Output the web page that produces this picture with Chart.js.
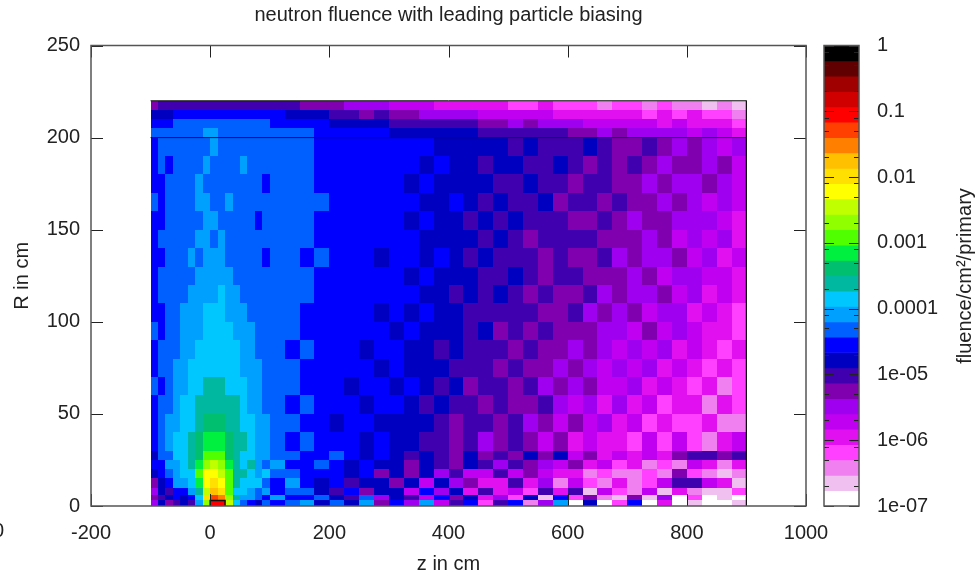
<!DOCTYPE html>
<html lang="en">
<head>
  <meta charset="UTF-8" />
  <title>neutron fluence with leading particle biasing</title>
  <style>
    body { margin: 0; background: #fff; overflow: hidden; }
    canvas { position: absolute; display: block; }
    #heat { left: 0; top: 0; }
    #bar { left: 800px; top: 0; }
  </style>
</head>
<body>
  <canvas id="heat" width="976" height="571"></canvas>
  <canvas id="bar" width="176" height="571"></canvas>

  <script src="https://cdn.jsdelivr.net/npm/chart.js"></script>
  <script>
    // bin edges in cm
    const zEdges = [-100, -87.5, -75, -62.5, -50, -37.5, -25, -12.5, 0, 12.5, 25, 37.5, 50, 62.5, 75, 87.5, 100,
      125, 150, 175, 200, 225, 250, 275, 300, 325, 350, 375, 400, 425, 450, 475, 500,
      525, 550, 575, 600, 625, 650, 675, 700, 725, 750, 775, 800, 825, 850, 875, 900];
    const rEdges = [220, 215, 210, 205, 200, 190, 180, 170, 160, 150, 140, 130, 120, 110, 100, 90, 80, 70, 60, 50, 40, 30, 25, 20, 15, 10, 6, 3, 0];

    // fluence, as -log10(fluence) * 10, rows from R=220 down to R=0
    const fluenceExp = [
      [52,50,50,50,50,50,50,50,50,50,50,50,50,50,50,50, 50,50,52,52,52,55,55,55, 57,57,57,60,60,60,60,60, 62,62,60,62,62,62,64,62, 62,64,62,64,64,66,64,66],
      [48,48,48,45,45,45,45,45,45,45,45,45,45,45,45,45, 45,48,48,48,50,50,52,50, 52,52,55,55,55,55,57,57, 57,57,57,60,60,60,60,60, 60,62,60,62,60,62,62,64],
      [45,45,45,43,43,43,43,43,43,43,43,43,43,43,43,43, 45,45,45,45,48,48,48,48, 50,50,50,50,50,50,52,52, 55,52,55,55,55,57,57,57, 57,57,60,57,60,60,60,62],
      [43,43,43,43,43,43,43,41,41,43,43,43,43,43,43,43, 43,43,43,45,45,45,45,45, 48,48,48,48,48,48,50,50, 50,50,50,50,52,52,55,52, 55,55,55,55,57,55,57,60],
      [45,43,43,43,43,43,43,43,41,43,43,43,43,43,43,43, 43,43,43,45,45,45,45,45, 45,45,45,48,48,48,48,48, 50,48,50,50,50,48,50,52, 52,50,52,55,52,55,57,55],
      [45,43,45,43,43,43,43,41,43,43,43,43,41,43,43,43, 43,43,43,45,45,45,45,45, 45,45,48,45,48,48,50,48, 48,50,50,48,50,52,50,52, 50,52,55,52,52,55,52,57],
      [45,45,43,43,43,43,41,43,43,43,43,43,43,43,43,45, 43,43,43,45,45,45,45,45, 45,48,45,48,48,48,48,50, 50,48,50,50,52,50,50,52, 52,55,52,55,55,52,55,57],
      [43,45,43,43,43,43,41,41,43,43,41,43,43,43,43,43, 43,43,43,43,45,45,45,45, 45,45,48,48,45,48,50,48, 50,50,48,52,50,50,52,50, 52,52,55,52,55,57,55,57],
      [45,45,43,43,43,43,43,41,41,43,43,43,43,43,45,43, 43,43,43,45,45,45,45,45, 45,48,45,48,48,50,48,50, 48,50,50,50,52,52,50,52, 55,52,52,55,55,55,57,60],
      [45,43,43,43,43,43,41,41,43,41,43,43,43,43,43,43, 43,43,43,45,45,45,45,45, 45,45,48,48,48,48,50,48, 50,52,50,50,50,50,52,52, 52,55,52,57,55,57,55,60],
      [45,45,43,43,43,41,43,41,41,41,43,43,43,43,43,45, 43,43,45,43,45,45,45,48, 45,45,48,45,48,50,48,50, 50,50,52,50,52,52,50,55, 52,55,55,52,57,55,60,57],
      [45,43,43,43,43,43,41,41,41,41,41,43,43,43,43,43, 43,43,43,45,45,45,45,45, 45,48,45,48,48,48,50,50, 48,50,52,50,50,52,52,52, 55,52,57,55,55,57,57,60],
      [45,43,43,43,43,41,41,41,41,38,41,41,43,43,43,43, 43,43,43,45,45,45,45,45, 45,45,48,48,50,48,50,48, 50,52,50,52,52,50,55,52, 55,55,52,57,55,60,57,60],
      [45,45,43,43,41,41,41,38,38,38,41,41,41,43,43,43, 43,43,45,45,45,45,45,48, 45,48,45,48,48,50,50,50, 50,50,52,52,50,55,52,55, 52,57,55,55,60,57,60,62],
      [43,45,43,43,41,41,41,38,38,38,38,41,41,41,43,43, 43,43,45,45,45,45,45,45, 48,45,48,48,48,50,48,52, 50,52,50,52,52,52,55,55, 57,52,57,55,57,60,60,62],
      [45,43,43,43,41,41,38,38,38,38,38,38,41,41,43,43, 43,45,43,45,45,45,48,45, 45,48,48,50,48,50,50,50, 52,50,52,52,55,52,55,57, 55,57,55,60,57,60,62,60],
      [45,43,43,41,41,38,38,38,38,38,38,38,41,41,41,43, 43,43,45,45,45,45,45,48, 45,48,48,48,50,50,50,52, 50,52,52,55,52,55,57,55, 57,55,60,57,60,62,60,62],
      [43,45,43,41,41,38,38,36,36,36,38,38,38,41,41,43, 43,43,45,45,45,48,45,45, 48,45,48,50,48,52,50,50, 52,50,55,52,55,52,57,57, 55,60,57,60,62,60,64,62],
      [45,43,43,41,38,38,36,36,36,36,36,36,38,41,41,43, 43,45,43,45,45,45,48,45, 45,48,50,48,50,50,52,50, 52,52,50,55,57,55,60,55, 60,57,62,60,60,64,60,62],
      [45,43,41,41,38,38,36,34,34,34,36,36,38,38,41,41, 43,43,45,45,48,45,45,48, 48,48,48,50,52,50,50,52, 50,55,52,57,52,57,55,60, 57,62,60,62,62,60,64,64],
      [45,43,41,38,38,36,34,31,31,31,34,36,36,38,41,41, 43,45,43,45,45,45,48,45, 48,48,50,50,52,50,55,52, 50,52,57,52,60,57,60,60, 62,57,62,57,62,64,60,57],
      [48,43,43,38,38,36,34,29,29,29,34,36,38,38,41,41, 43,43,45,45,43,45,48,45, 48,50,48,50,52,48,52,50, 52,48,52,48,57,52,60,57, 60,57,60,52,50,50,52,50],
      [45,45,41,41,38,36,31,27,24,27,31,36,38,36,41,43, 41,45,45,43,45,48,45,48, 48,52,48,50,52,48,50,55, 50,52,55,57,52,60,57,62, 60,64,62,64,57,60,64,60],
      [48,45,43,41,38,38,29,22,22,24,29,36,36,38,41,38, 43,43,45,45,45,48,45,52, 48,52,48,55,50,57,57,50, 57,52,57,60,60,64,62,64, 64,62,64,52,62,64,66,64],
      [52,48,45,41,41,38,31,22,20,22,29,36,38,38,38,43, 45,41,45,48,45,50,48,48, 52,48,57,48,55,52,60,60, 50,60,55,64,57,62,64,60, 64,62,57,50,50,57,60,66],
      [55,48,50,45,45,41,36,24,17,20,29,38,38,41,43,41, 45,43,43,48,50,45,52,48, 48,57,45,55,48,60,50,60, 57,62,50,60,50,66,57,62, 64,57,66,60,64,66,66,62],
      [52,50,48,45,48,45,38,20,13,15,27,36,41,41,43,45, 41,45,45,43,48,50,43,55, 48,50,57,45,52,48,60,55, 62,48,66,45,62,52,64,66, 52,66,55,69,62,69,66,69],
      [55,48,52,50,48,50,41,27,10,10,24,38,43,45,48,43, 45,43,41,48,43,48,41,52, 45,55,41,57,50,45,62,50, 45,64,55,41,69,48,69,62, 45,69,60,69,66,69,69,66]
    ];

    // palette from the colour box, top (1) to bottom (1e-7)
    const bandColors = ['#000000', '#600000', '#a00000', '#d00000', '#ff0000', '#ff4000', '#ff8000', '#ffc000', '#ffe000', '#ffff00',
      '#c0ff00', '#90ff00', '#50ff00', '#00f040', '#00c070', '#00b8a0', '#00c8ff', '#00a0ff', '#0060ff', '#0000ff',
      '#0000c0', '#4000b0', '#8000b0', '#a000f0', '#c000f0', '#e010f0', '#ff40ff', '#f080f0', '#f0c0f0', '#ffffff'];

    const outlineZ = [-100, 900, 900];
    const outlineR = [220, 220, 0];
    const shieldZ = [-100, 900];
    const shieldR = [200, 200];
    const targetZ = [0, 0, 25, 25];
    const targetR = [0, 3, 3, 0];

    const barDecades = [1, 0.1, 0.01, 0.001, 0.0001, 1e-5, 1e-6, 1e-7];
    const barLabels = ['1', '0.1', '0.01', '0.001', '0.0001', '1e-05', '1e-06', '1e-07'];
    const barMinorMant = [8, 5, 2];

    const FONT = '"Liberation Sans", Arial, sans-serif';
    const INK = '#222';
    const FRAME = '#555';

    function bandOf(exp) {
      return bandColors[Math.min(29, Math.floor(exp / (70 / 30)))];
    }

    function pairs(xs, ys) {
      return xs.map((x, i) => ({ x: x, y: ys[i] }));
    }

    const cells = [];
    fluenceExp.forEach((row, i) => {
      row.forEach((exp, j) => {
        cells.push({
          x: (zEdges[j] + zEdges[j + 1]) / 2, y: (rEdges[i] + rEdges[i + 1]) / 2,
          z0: zEdges[j], z1: zEdges[j + 1], r0: rEdges[i + 1], r1: rEdges[i], exp: exp
        });
      });
    });

    const heatCells = {
      id: 'heatCells',
      beforeDatasetsDraw(chart) {
        const { ctx, scales } = chart;
        ctx.save();
        chart.data.datasets[0].data.forEach(c => {
          const x0 = Math.round(scales.x.getPixelForValue(c.z0));
          const x1 = Math.round(scales.x.getPixelForValue(c.z1));
          const y0 = Math.round(scales.y.getPixelForValue(c.r1));
          const y1 = Math.round(scales.y.getPixelForValue(c.r0));
          ctx.fillStyle = bandOf(c.exp);
          ctx.fillRect(x0, y0, x1 - x0, y1 - y0);
        });
        ctx.restore();
      }
    };

    // gnuplot style frame with inward ticks on all four sides
    const frameTicks = {
      id: 'frameTicks',
      afterDatasetsDraw(chart) {
        const { ctx, chartArea: a, scales } = chart;
        ctx.save();
        ctx.strokeStyle = INK;
        ctx.lineWidth = 1;
        ctx.beginPath();
        scales.x.ticks.forEach(t => {
          const px = Math.round(scales.x.getPixelForValue(t.value)) + 0.5;
          ctx.moveTo(px, a.bottom); ctx.lineTo(px, a.bottom - 12);
          ctx.moveTo(px, a.top); ctx.lineTo(px, a.top + 12);
        });
        scales.y.ticks.forEach(t => {
          const py = Math.round(scales.y.getPixelForValue(t.value)) + 0.5;
          ctx.moveTo(a.left, py); ctx.lineTo(a.left + 12, py);
          ctx.moveTo(a.right, py); ctx.lineTo(a.right - 12, py);
        });
        ctx.stroke();
        ctx.strokeStyle = FRAME;
        ctx.lineWidth = 1.5;
        ctx.strokeRect(a.left, a.top, a.right - a.left, a.bottom - a.top);
        // label cut off by the left edge of the picture
        ctx.fillStyle = INK;
        ctx.font = '20px ' + FONT;
        ctx.textBaseline = 'middle';
        ctx.fillText('0', -7, 531);
        ctx.restore();
      }
    };

    new Chart(document.getElementById('heat'), {
      type: 'scatter',
      data: {
        datasets: [
          { data: cells, pointRadius: 0, showLine: false },
          { data: pairs(outlineZ, outlineR), showLine: true, pointRadius: 0, borderColor: '#111', borderWidth: 1 },
          { data: pairs(shieldZ, shieldR), showLine: true, pointRadius: 0, borderColor: '#111', borderWidth: 1 },
          { data: pairs(targetZ, targetR), showLine: true, pointRadius: 0, borderColor: '#111', borderWidth: 1.5 }
        ]
      },
      plugins: [heatCells, frameTicks],
      options: {
        responsive: false,
        animation: false,
        layout: { padding: { right: 170 } },
        plugins: {
          legend: { display: false },
          tooltip: { enabled: false },
          title: {
            display: true,
            fullSize: false,
            text: 'neutron fluence with leading particle biasing',
            color: INK,
            font: { family: FONT, size: 20, weight: 'normal' },
            padding: { top: 3, bottom: 18.5 }
          }
        },
        scales: {
          x: {
            type: 'linear', min: -200, max: 1000,
            ticks: { stepSize: 200, color: INK, font: { family: FONT, size: 20 }, padding: 7, maxRotation: 0, callback: v => String(v) },
            grid: { display: false }, border: { display: false },
            title: { display: true, text: 'z in cm', color: INK, font: { family: FONT, size: 20 }, padding: { top: 0, bottom: -5 } },
            afterFit(s) { s.height = 65; }
          },
          y: {
            type: 'linear', min: 0, max: 250,
            ticks: { stepSize: 50, color: INK, font: { family: FONT, size: 20 }, padding: 3 },
            grid: { display: false }, border: { display: false },
            title: { display: true, text: 'R in cm', color: INK, font: { family: FONT, size: 20 }, padding: { top: 10, bottom: 0 } },
            afterFit(s) { s.width = 91; }
          }
        }
      }
    });

    // colour box
    const barSets = bandColors.map((col, i) => ({
      data: [[Math.pow(10, -7 * (i + 1) / 30), Math.pow(10, -7 * i / 30)]],
      backgroundColor: col,
      borderWidth: 0,
      barPercentage: 1,
      categoryPercentage: 1,
      grouped: false
    }));

    const barFrame = {
      id: 'barFrame',
      afterDatasetsDraw(chart) {
        const { ctx, chartArea: a, scales } = chart;
        ctx.save();
        ctx.strokeStyle = INK;
        ctx.lineWidth = 1;
        ctx.beginPath();
        barDecades.forEach(v => {
          const py = Math.round(scales.y.getPixelForValue(v)) + 0.5;
          ctx.moveTo(a.left, py); ctx.lineTo(a.left + 10, py);
          ctx.moveTo(a.right, py); ctx.lineTo(a.right - 10, py);
        });
        barDecades.slice(0, -1).forEach(v => {
          barMinorMant.forEach(m => {
            const py = Math.round(scales.y.getPixelForValue(v * m / 10)) + 0.5;
            ctx.moveTo(a.left, py); ctx.lineTo(a.left + 5, py);
            ctx.moveTo(a.right, py); ctx.lineTo(a.right - 5, py);
          });
        });
        ctx.stroke();
        ctx.strokeStyle = FRAME;
        ctx.lineWidth = 1.5;
        ctx.strokeRect(a.left, a.top, a.right - a.left, a.bottom - a.top);
        // axis title reads upward here, chart.js would turn it the other way
        ctx.translate(165, 276);
        ctx.rotate(-Math.PI / 2);
        ctx.fillStyle = INK;
        ctx.font = '20px ' + FONT;
        ctx.textAlign = 'center';
        ctx.textBaseline = 'middle';
        ctx.fillText('fluence/cm²/primary', 0, 0);
        ctx.restore();
      }
    };

    new Chart(document.getElementById('bar'), {
      type: 'bar',
      data: { labels: [''], datasets: barSets },
      plugins: [barFrame],
      options: {
        responsive: false,
        animation: false,
        layout: { padding: { top: 45.5, bottom: 65, left: 24 } },
        plugins: { legend: { display: false }, tooltip: { enabled: false } },
        scales: {
          x: { display: false },
          y: {
            type: 'logarithmic', position: 'right', min: 1e-7, max: 1,
            afterBuildTicks(s) { s.ticks = barDecades.map(v => ({ value: v })); },
            ticks: {
              color: INK, font: { family: FONT, size: 20 }, padding: 10, autoSkip: false,
              callback: v => barLabels[barDecades.findIndex(d => Math.abs(Math.log10(d) - Math.log10(v)) < 0.01)]
            },
            grid: { display: false }, border: { display: false },
            afterFit(s) { s.width = 117; }
          }
        }
      }
    });
  </script>
</body>
</html>
